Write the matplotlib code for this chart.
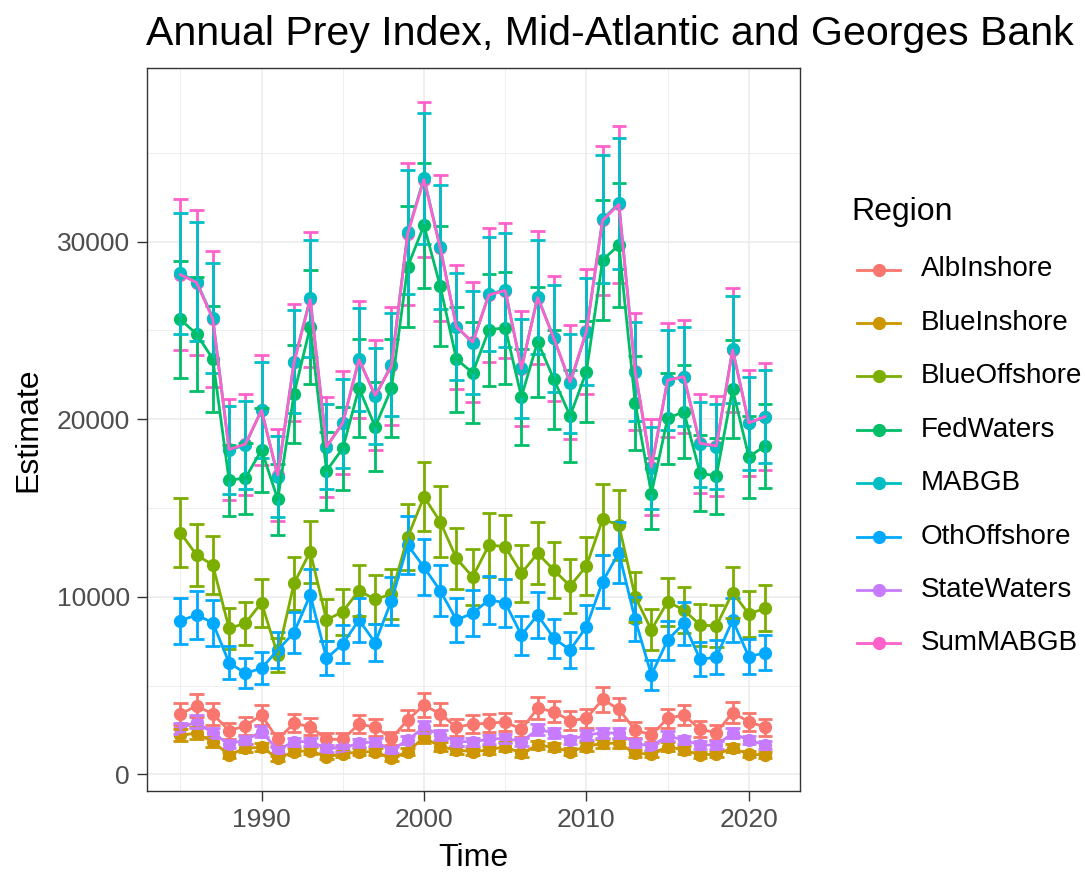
import numpy as np
import matplotlib
matplotlib.use("Agg")
import matplotlib.pyplot as plt
from matplotlib.lines import Line2D

plt.rcParams['font.family'] = ['Liberation Sans', 'DejaVu Sans']

years = list(range(1985, 2022))

regions = ["AlbInshore", "BlueInshore", "BlueOffshore", "FedWaters",
           "MABGB", "OthOffshore", "StateWaters", "SumMABGB"]
colors = ["#F8766D", "#CD9600", "#7CAE00", "#00BE67",
          "#00BFC4", "#00A9FF", "#C77CFF", "#FF61CC"]

alb_inshore = [3410, 3860, 3410, 2470, 2730, 3350, 1980, 2880, 2690, 1980, 1980, 2840, 2660,
               2040, 3070, 3910, 3410, 2660, 2840, 2880, 2970, 2540, 3730, 3540, 3030, 3160,
               4230, 3670, 2510, 2220, 3160, 3350, 2540, 2350, 3480, 2970, 2660]
alb_inshore_se = [600, 650, 600, 450, 480, 580, 380, 500, 480, 380, 380, 500, 470, 380, 540,
                  650, 600, 470, 500, 500, 520, 450, 630, 600, 530, 550, 700, 620, 450, 400,
                  550, 580, 450, 420, 600, 520, 470]

blue_inshore = [2220, 2320, 1850, 1100, 1480, 1530, 910, 1280, 1340, 1000, 1150, 1280, 1280,
                910, 1280, 2090, 1570, 1380, 1280, 1380, 1570, 1190, 1660, 1530, 1280, 1570,
                1760, 1760, 1190, 1150, 1570, 1380, 1100, 1150, 1480, 1150, 1100]
blue_inshore_se = [330, 350, 280, 170, 220, 230, 140, 190, 200, 150, 170, 190, 190, 140, 190,
                   310, 240, 210, 190, 210, 240, 180, 250, 230, 190, 240, 260, 260, 180, 170,
                   240, 210, 170, 170, 220, 170, 170]

blue_offshore = [13620, 12360, 11800, 8230, 8510, 9670, 6730, 10760, 12550, 8700, 9170, 10350,
                 9860, 10160, 13360, 15640, 14230, 12170, 11120, 12920, 12830, 11330, 12450,
                 11510, 10610, 11740, 14370, 14050, 10010, 8140, 9730, 9260, 8420, 8360,
                 10240, 9040, 9360]
blue_offshore_se = [1950, 1750, 1650, 1150, 1200, 1350, 950, 1500, 1750, 1200, 1300, 1450,
                    1400, 1400, 1850, 1950, 2000, 1700, 1550, 1800, 1800, 1600, 1750, 1600,
                    1500, 1650, 2000, 1950, 1400, 1150, 1350, 1300, 1200, 1200, 1450, 1300, 1300]

fed_waters = [25630, 24800, 23400, 16580, 16680, 18270, 15490, 21420, 25210, 17100, 18360,
              21750, 19580, 21750, 28590, 30920, 27500, 23380, 22620, 25030, 25160, 21270,
              24370, 22250, 20190, 22680, 28970, 29810, 20940, 15810, 20050, 20430, 16960,
              16810, 21690, 17890, 18500]
fed_waters_se = [3300, 3200, 3000, 2000, 2000, 2350, 2000, 2750, 3200, 2200, 2350, 2750, 2500,
                 2750, 3400, 3500, 3400, 2950, 2850, 3150, 3150, 2700, 3100, 2800, 2600, 2850,
                 3400, 3500, 2650, 2000, 2550, 2600, 2150, 2150, 2750, 2300, 2350]

mabgb = [28220, 27750, 25720, 18270, 18550, 20520, 16770, 23240, 26810, 18460, 19770, 23380,
         21300, 23060, 30530, 33570, 29700, 25210, 24310, 27050, 27280, 22870, 26900, 24560,
         22030, 24930, 31260, 32160, 22680, 17240, 22210, 22400, 18600, 18460, 23940, 19770,
         20150]
mabgb_se = [3400, 3350, 3100, 2500, 2500, 2700, 2300, 2900, 3300, 2400, 2500, 2900, 2700,
            2900, 3500, 3700, 3500, 3000, 2900, 3200, 3200, 2800, 3200, 3000, 2800, 3000,
            3600, 3700, 2800, 2300, 2800, 2800, 2400, 2400, 3000, 2600, 2600]

oth_offshore = [8660, 8980, 8550, 6300, 5700, 5980, 7010, 7990, 10110, 6540, 7350, 8700, 7420,
                9790, 12920, 11670, 10350, 8700, 9080, 9830, 9670, 7850, 8980, 7670, 7010,
                8320, 10860, 12490, 8740, 5600, 7570, 8510, 6490, 6600, 8700, 6630, 6860]
oth_offshore_se = [1300, 1350, 1300, 950, 850, 900, 1000, 1150, 1450, 950, 1050, 1250, 1050,
                   1350, 1650, 1580, 1450, 1250, 1300, 1350, 1350, 1100, 1300, 1100, 1000,
                   1200, 1500, 1700, 1250, 850, 1100, 1200, 950, 950, 1250, 1000, 1000]

state_waters = [2600, 2970, 2320, 1720, 1940, 2410, 1380, 1850, 1850, 1480, 1480, 1760, 1850,
                1380, 1940, 2660, 2220, 1850, 1850, 1980, 2040, 1850, 2540, 2350, 1940, 2220,
                2350, 2320, 1760, 1600, 2170, 1940, 1660, 1660, 2320, 1940, 1660]
state_waters_se = [320, 360, 290, 220, 240, 300, 180, 230, 230, 190, 190, 220, 230, 180, 240,
                   330, 280, 230, 230, 250, 250, 230, 310, 290, 240, 280, 290, 290, 220, 200,
                   270, 240, 210, 210, 290, 240, 210]

sum_mabgb = [28150, 27700, 25650, 18300, 18600, 20500, 16860, 23200, 26750, 18450, 19800,
             23350, 21350, 23000, 30450, 33500, 29650, 25200, 24350, 27000, 27250, 22850,
             26850, 24550, 22100, 24950, 31200, 32100, 22700, 17300, 22200, 22400, 18650,
             18500, 23900, 19800, 20150]
sum_mabgb_se = [4250, 4100, 3850, 2850, 2850, 3100, 2600, 3300, 3800, 2800, 2900, 3300, 3100,
                3300, 4000, 4350, 4100, 3500, 3400, 3750, 3800, 3250, 3750, 3500, 3200, 3500,
                4200, 4400, 3300, 2700, 3200, 3200, 2800, 2800, 3500, 3000, 3000]

series = [alb_inshore, blue_inshore, blue_offshore, fed_waters,
          mabgb, oth_offshore, state_waters, sum_mabgb]
errors = [alb_inshore_se, blue_inshore_se, blue_offshore_se, fed_waters_se,
          mabgb_se, oth_offshore_se, state_waters_se, sum_mabgb_se]

W, H = 1085, 874
fig = plt.figure(figsize=(W / 100, H / 100), dpi=100)
ax = fig.add_axes([147 / W, 1 - 791 / H, (800 - 147) / W, (791 - 68) / H])

x = np.array(years)
cap = 0.45
# the summed series sits underneath the MABGB points and error bars, its line on top
order_pts = {7: 2.0}
for i, (vals, col) in enumerate(zip(series, colors)):
    z = 2.0 if regions[i] == "SumMABGB" else 3 + i * 0.01
    ax.plot(x, vals, linestyle='none', marker='o', markersize=8.5, color=col, zorder=z)
for i, (vals, err, col) in enumerate(zip(series, errors, colors)):
    v = np.array(vals, dtype=float)
    e = np.array(err, dtype=float)
    z = 2.5 if regions[i] == "SumMABGB" else 4 + i * 0.01
    ax.vlines(x, v - e, v + e, colors=col, linewidth=2.0, zorder=z)
    ax.hlines(v - e, x - cap, x + cap, colors=col, linewidth=2.0, zorder=z)
    ax.hlines(v + e, x - cap, x + cap, colors=col, linewidth=2.0, zorder=z)
for i, (vals, col) in enumerate(zip(series, colors)):
    ax.plot(x, vals, linestyle='-', linewidth=2.0, color=col, zorder=5 + i * 0.01)

ax.set_xlim(1982.95, 2023.15)
ax.set_ylim(-930, 39780)
ax.set_xticks([1990, 2000, 2010, 2020])
ax.set_yticks([0, 10000, 20000, 30000])
ax.set_xticks([1985, 1995, 2005, 2015], minor=True)
ax.set_yticks([5000, 15000, 25000, 35000], minor=True)
ax.grid(which='major', color='#EBEBEB', linewidth=1.1, zorder=0)
ax.grid(which='minor', color='#EBEBEB', linewidth=0.55, zorder=0)
ax.set_axisbelow(True)
ax.tick_params(which='major', length=7, width=1.0, color='#333333',
               labelsize=19, labelcolor='#4D4D4D', pad=5.5)
ax.tick_params(which='minor', length=0)
for s in ax.spines.values():
    s.set_color('#333333')
    s.set_linewidth(1.0)

fig.text(473.5 / W, 1 - 858 / H, "Time", fontsize=23, ha='center', va='center', color='black')
fig.text(28 / W, 1 - 429.5 / H, "Estimate", fontsize=23, ha='center', va='center',
         rotation=90, color='black')
fig.text(146 / W, 1 - 45 / H, "Annual Prey Index, Mid-Atlantic and Georges Bank",
         fontsize=29.6, ha='left', va='baseline', color='black')

# legend
fig.text(851 / W, 1 - 220 / H, "Region", fontsize=23, ha='left', va='baseline', color='black')
row_y = 269.5
for i, (name, col) in enumerate(zip(regions, colors)):
    yy = 1 - (row_y + i * 53.4) / H
    fig.add_artist(Line2D([857 / W, 878.5 / W, 900 / W], [yy, yy, yy], transform=fig.transFigure,
                          color=col, linewidth=2.0, marker='o', markersize=8.5, markevery=[1]))
    fig.text(921 / W, yy, name, fontsize=20, ha='left', va='center', color='black')

fig.savefig("out.png", dpi=100)
